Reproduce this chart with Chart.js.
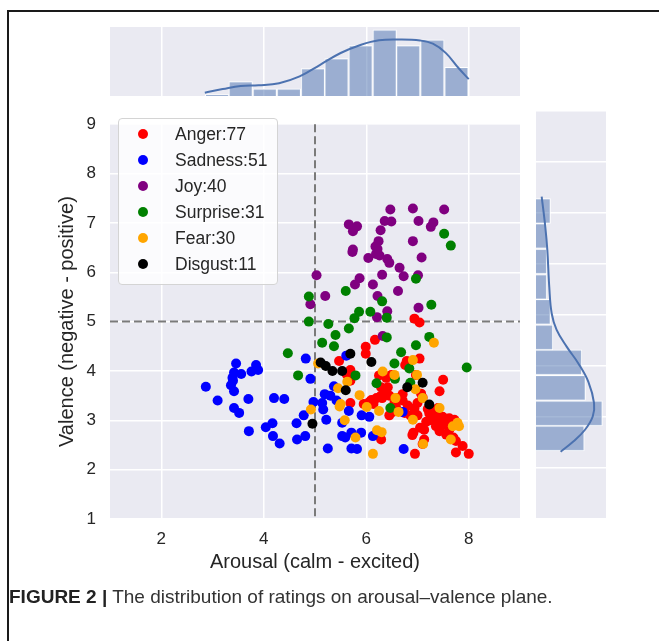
<!DOCTYPE html>
<html>
<head>
<meta charset="utf-8">
<script src="https://cdn.jsdelivr.net/npm/chart.js@4.4.1/dist/chart.umd.min.js"></script>
<style>
  html, body { margin: 0; padding: 0; background: #fff; }
  body { width: 659px; height: 641px; position: relative; overflow: hidden; font-family: "Liberation Sans", Arial, sans-serif; }
  .frame { position: absolute; left: 7px; top: 10px; width: 700px; height: 700px; border-top: 2px solid #1a1a1a; border-left: 2px solid #1a1a1a; }
  canvas { position: absolute; }
  #topHist { left: 0; top: 0; }
  #main { left: 0; top: 100px; }
  #rightHist { left: 530px; top: 100px; }
  #legend { position: absolute; left: 118px; top: 118px; width: 160px; height: 167px; box-sizing: border-box;
    background: rgba(255,255,255,0.8); border: 1px solid #d4d4d4; border-radius: 4px; padding-top: 2px; }
  .item { height: 26px; display: flex; align-items: center; font-size: 17.5px; color: #262626; }
  .dot { width: 10px; height: 10px; border-radius: 50%; margin-left: 19px; margin-right: 27px; }
  #caption { position: absolute; left: 9px; top: 586px; font-size: 19px; line-height: 22px; color: #333; white-space: nowrap; }
  #caption b { color: #222; }
</style>
</head>
<body>
<div class="frame"></div>
<canvas id="topHist" width="530" height="100"></canvas>
<canvas id="main" width="530" height="490"></canvas>
<canvas id="rightHist" width="80" height="490"></canvas>
<div id="legend"></div>
<div id="caption"><b>FIGURE 2 |</b> The distribution of ratings on arousal–valence plane.</div>
<script>
// emotion categories, legend counts
const emotions = ['Anger', 'Sadness', 'Joy', 'Surprise', 'Fear', 'Disgust'];
const emotionCounts = [77, 51, 40, 31, 30, 11];

// [arousal, valence] ratings per emotion
const anger = [
  [6.94,5.06],[7.04,4.98],[6.17,4.63],[5.99,4.49],[5.99,4.35],[5.47,4.20],[5.69,4.02],[5.62,3.93],[5.69,3.80],[5.69,3.35],
  [6.79,4.20],[7.04,4.25],[6.76,4.12],[6.25,3.91],[6.39,3.86],[6.49,3.92],[6.29,3.67],[6.42,3.67],[6.97,3.92],[6.71,3.53],
  [6.60,3.45],[6.71,3.40],[5.95,3.33],[6.14,3.33],[6.10,3.41],[6.31,3.45],[6.45,3.10],[6.52,3.17],[6.58,3.27],[6.81,3.30],
  [6.94,3.24],[6.86,3.10],[6.92,2.75],[7.13,2.61],[6.95,2.32],[6.29,2.61],[7.07,3.54],[7.43,3.59],[7.50,3.82],[7.10,3.46],
  [7.13,2.81],[7.30,3.04],[7.43,2.97],[7.56,2.94],[7.72,3.01],[7.23,3.14],[7.36,3.10],[7.49,3.07],[7.75,2.58],[7.88,2.48],
  [7.75,2.35],[8.00,2.32],[7.62,2.81],[7.70,2.65],[7.20,3.23],[7.33,3.20],[7.17,2.97],[7.36,2.88],[7.49,2.90],[7.05,2.85],
  [7.43,2.78],[7.56,2.71],[7.10,2.52],[6.90,2.70],[7.62,3.04],[6.06,3.37],[6.20,3.45],[6.29,3.50],[6.36,3.56],[6.45,3.50],
  [7.00,3.35],[7.25,3.00],[7.40,3.25],[7.60,2.90],[7.00,3.10],[6.75,3.15],[6.55,3.35]
];
const sadness = [
  [3.46,4.15],[3.85,4.12],[3.89,4.02],[3.76,3.99],[3.42,3.97],[3.56,3.94],[3.39,3.86],[3.36,3.71],[2.87,3.68],[3.42,3.59],
  [3.10,3.40],[3.70,3.43],[3.42,3.25],[3.52,3.15],[4.20,3.45],[4.40,3.43],[3.71,2.78],[4.04,2.86],[4.17,2.94],[4.18,2.68],
  [4.31,2.53],[4.64,2.94],[4.78,3.10],[4.81,2.68],[4.65,2.61],[4.82,4.25],[4.91,3.84],[4.97,3.37],[5.14,3.35],[5.16,3.22],
  [5.19,3.53],[5.22,3.01],[5.25,2.43],[5.37,3.69],[5.42,3.40],[5.66,3.19],[5.53,2.95],[5.53,2.68],[5.59,2.65],[5.71,2.75],
  [5.71,2.43],[5.82,2.42],[5.61,4.31],[5.91,3.10],[6.06,3.07],[5.90,2.75],[6.13,2.68],[6.71,3.17],[6.73,2.42],[3.40,3.80],
  [5.30,3.50]
];
const joy = [
  [6.47,7.27],[6.91,7.29],[7.52,7.27],[5.66,6.97],[5.82,6.93],[5.74,6.83],[6.36,7.04],[6.49,7.03],[7.02,7.04],[7.31,7.01],
  [7.26,6.92],[6.28,6.85],[6.24,6.63],[6.91,6.63],[5.74,6.46],[5.73,6.41],[6.22,6.47],[6.19,6.37],[6.04,6.29],[6.26,6.34],
  [6.41,6.27],[6.45,6.19],[7.08,6.30],[6.65,6.09],[6.73,5.92],[7.01,5.94],[5.03,5.94],[5.87,5.88],[5.78,5.75],[6.31,5.95],
  [6.13,5.75],[6.62,5.62],[5.20,5.52],[4.91,5.35],[6.22,5.52],[6.41,5.21],[7.02,5.28],[6.21,5.09],[6.32,4.71],[6.18,6.52]
];
const surprise = [
  [7.52,6.78],[7.65,6.54],[6.97,5.87],[4.88,5.51],[5.60,5.62],[6.31,5.41],[7.27,5.34],[4.88,5.00],[5.26,4.95],[5.86,5.20],
  [6.08,5.20],[5.77,5.07],[6.40,5.08],[5.66,4.86],[5.40,4.73],[5.14,4.57],[6.40,4.68],[7.23,4.69],[6.97,4.52],[5.37,4.50],
  [5.79,3.91],[4.67,3.91],[6.55,4.15],[4.47,4.36],[6.68,4.38],[6.84,4.05],[6.86,3.76],[7.96,4.07],[6.47,3.25],[6.56,3.84],
  [6.20,3.75]
];
const fear = [
  [5.06,4.15],[5.45,3.65],[5.63,3.78],[5.50,3.33],[4.92,3.22],[5.58,3.00],[5.79,2.65],[5.87,3.51],[6.01,3.27],[6.25,3.19],
  [6.21,2.80],[6.30,2.76],[6.13,2.32],[6.32,3.99],[6.55,3.92],[6.57,3.45],[6.63,3.17],[6.91,4.22],[6.99,3.92],[6.96,3.63],
  [6.91,3.01],[7.32,4.57],[7.43,3.25],[7.11,2.52],[7.65,2.61],[7.78,2.95],[7.81,2.88],[7.69,2.88],[5.48,3.28],[7.10,3.45]
];
const disgust = [
  [5.69,4.35],[5.11,4.17],[5.21,4.10],[5.34,4.00],[5.53,4.00],[5.60,3.61],[4.95,2.93],[6.10,4.18],[6.80,3.67],[7.10,3.76],
  [7.23,3.32]
];

// marginal histograms (bin centres and counts) and kde curves
const arousalBins = [3.09, 3.55, 4.02, 4.49, 4.96, 5.42, 5.89, 6.36, 6.82, 7.29, 7.76];
const arousalCounts = [1, 10, 5, 5, 19, 26, 35, 46, 35, 39, 20];
const arousalKdeX = [2.85, 3.20, 3.55, 3.90, 4.30, 4.70, 5.10, 5.50, 5.90, 6.25, 6.65, 7.05, 7.30, 7.55, 7.80, 8.00];
const arousalKde = [2.3, 4.8, 7.0, 7.5, 8.9, 13.6, 21.7, 29.9, 35.7, 38.8, 39.3, 38.6, 36.4, 30.0, 19.5, 11.7];

const valenceBins = [2.58, 3.07, 3.57, 4.07, 4.56, 5.06, 5.55, 6.05, 6.55, 7.04];
const valenceCounts = [40, 55, 41, 38, 14, 12, 9, 9, 9, 12];
const valenceKdeY = [2.32, 2.52, 2.75, 3.01, 3.27, 3.69, 4.05, 4.38, 4.71, 5.03, 5.55, 6.27, 6.73, 7.32];
const valenceKde = [20.4, 30.9, 40.6, 47.0, 48.1, 43.4, 35.1, 25.4, 17.1, 13.0, 11.0, 9.4, 7.7, 4.7];

const arousalTicks = [2, 4, 6, 8];
const valenceTicks = [1, 2, 3, 4, 5, 6, 7, 8, 9];
const neutral = 5;

const colors = { Anger: '#ff0000', Sadness: '#0000ff', Joy: '#800080', Surprise: '#008000', Fear: '#ffa500', Disgust: '#000000' };
const seabornBlue = '#4c72b0';
const textColor = '#262626';

Chart.defaults.font.family = '"Liberation Sans", Arial, sans-serif';

const panelBg = {
  id: 'panelBg',
  beforeDraw(chart) {
    const { ctx, chartArea: a } = chart;
    ctx.save();
    ctx.fillStyle = '#eaeaf2';
    ctx.fillRect(a.left, a.top, a.width, a.height);
    ctx.restore();
  }
};

const neutralLines = {
  id: 'neutralLines',
  beforeDatasetsDraw(chart) {
    const { ctx, chartArea: a, scales: { x, y } } = chart;
    const px = x.getPixelForValue(neutral);
    const py = y.getPixelForValue(neutral);
    ctx.save();
    ctx.strokeStyle = '#7a7a7a';
    ctx.lineWidth = 2;
    ctx.setLineDash([8, 4]);
    ctx.beginPath();
    ctx.moveTo(px, a.top); ctx.lineTo(px, a.bottom);
    ctx.moveTo(a.left, py); ctx.lineTo(a.right, py);
    ctx.stroke();
    ctx.restore();
  }
};

const setTicks = list => scale => { scale.ticks = list.map(v => ({ value: v })); };
const toXY = pts => pts.map(p => ({ x: p[0], y: p[1] }));

// main scatter: first dataset is painted last, so the small groups sit on top
const series = { Anger: anger, Sadness: sadness, Joy: joy, Surprise: surprise, Fear: fear, Disgust: disgust };
const drawOrder = ['Disgust', 'Fear', 'Surprise', 'Joy', 'Sadness', 'Anger'];

new Chart(document.getElementById('main'), {
  type: 'scatter',
  data: {
    datasets: drawOrder.map(name => ({
      label: name,
      data: toXY(series[name]),
      backgroundColor: colors[name],
      borderWidth: 0,
      pointRadius: 5,
      pointHoverRadius: 5
    }))
  },
  options: {
    responsive: false,
    animation: false,
    layout: { padding: { top: 11, right: 10, left: 0, bottom: 0 } },
    plugins: { legend: { display: false }, tooltip: { enabled: false } },
    scales: {
      x: {
        type: 'linear', min: 1, max: 9,
        afterBuildTicks: setTicks(arousalTicks),
        afterFit: s => { s.height = 71; },
        grid: { color: '#fff', lineWidth: 1.5, drawTicks: false },
        border: { display: false },
        ticks: { color: textColor, font: { size: 17 }, padding: 10 },
        title: { display: true, text: 'Arousal (calm - excited)', color: textColor, font: { size: 20 }, padding: { top: 0, bottom: 16 } }
      },
      y: {
        type: 'linear', min: 1, max: 9,
        afterBuildTicks: setTicks(valenceTicks),
        afterFit: s => { s.width = 110; },
        grid: { color: '#fff', lineWidth: 1.5, drawTicks: false },
        border: { display: false },
        ticks: { color: textColor, font: { size: 17 }, padding: 14 },
        title: { display: true, text: 'Valence (negative - positive)', color: textColor, font: { size: 20 }, padding: { top: 55, bottom: 0 } }
      }
    }
  },
  plugins: [panelBg, neutralLines]
});

// top marginal: arousal
new Chart(document.getElementById('topHist'), {
  type: 'bar',
  data: {
    datasets: [
      { type: 'line', data: arousalKdeX.map((x, i) => ({ x, y: arousalKde[i] })), borderColor: seabornBlue, borderWidth: 2, pointRadius: 0, tension: 0.4, fill: false },
      { type: 'bar', data: arousalBins.map((x, i) => ({ x, y: arousalCounts[i] })), backgroundColor: 'rgba(76,114,176,0.5)', borderColor: '#fff', borderWidth: 1, barPercentage: 1, categoryPercentage: 1 }
    ]
  },
  options: {
    responsive: false,
    animation: false,
    layout: { padding: { left: 110, right: 10, top: 27, bottom: 4 } },
    plugins: { legend: { display: false }, tooltip: { enabled: false } },
    scales: {
      x: {
        type: 'linear', min: 1, max: 9, offset: false,
        afterBuildTicks: setTicks(arousalTicks),
        afterFit: s => { s.height = 0; },
        grid: { color: '#fff', lineWidth: 1.5, drawTicks: false, offset: false },
        border: { display: false },
        ticks: { display: false }
      },
      y: { display: false, min: 0, max: 48 }
    }
  },
  plugins: [panelBg]
});

// right marginal: valence
new Chart(document.getElementById('rightHist'), {
  type: 'bar',
  data: {
    datasets: [
      { type: 'line', data: valenceKdeY.map((y, i) => ({ x: valenceKde[i], y })), borderColor: seabornBlue, borderWidth: 2, pointRadius: 0, tension: 0.4, fill: false },
      { type: 'bar', data: valenceBins.map((y, i) => ({ x: valenceCounts[i], y })), backgroundColor: 'rgba(76,114,176,0.5)', borderColor: '#fff', borderWidth: 1, barPercentage: 1, categoryPercentage: 1 }
    ]
  },
  options: {
    indexAxis: 'y',
    responsive: false,
    animation: false,
    layout: { padding: { left: 6, right: 4, top: 11, bottom: 71 } },
    plugins: { legend: { display: false }, tooltip: { enabled: false } },
    scales: {
      y: {
        type: 'linear', min: 1, max: 9, offset: false,
        afterBuildTicks: setTicks(valenceTicks),
        afterFit: s => { s.width = 0; },
        grid: { color: '#fff', lineWidth: 1.5, drawTicks: false, offset: false },
        border: { display: false },
        ticks: { display: false }
      },
      x: { display: false, min: 0, max: 58 }
    }
  },
  plugins: [panelBg]
});

// legend box inside the scatter panel
const legend = document.getElementById('legend');
emotions.forEach((name, i) => {
  const row = document.createElement('div');
  row.className = 'item';
  const dot = document.createElement('span');
  dot.className = 'dot';
  dot.style.background = colors[name];
  row.appendChild(dot);
  row.appendChild(document.createTextNode(name + ':' + emotionCounts[i]));
  legend.appendChild(row);
});
</script>
</body>
</html>
